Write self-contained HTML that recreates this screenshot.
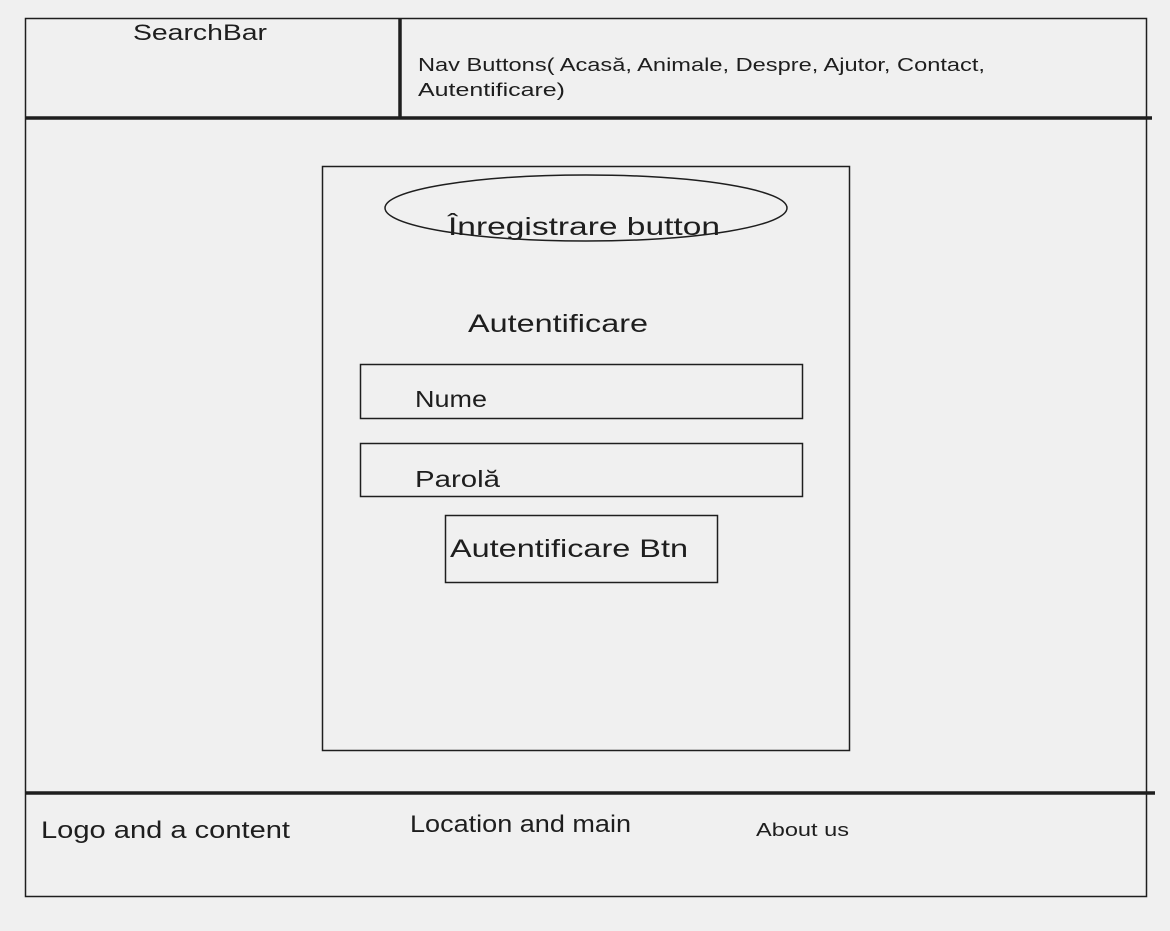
<!DOCTYPE html>
<html>
<head>
<meta charset="utf-8">
<style>
html,body{margin:0;padding:0;background:#f0f0f0;}
svg{display:block;}
text{font-family:"Liberation Sans","DejaVu Sans",sans-serif;fill:#1e1e1e;}
</style>
</head>
<body>
<svg width="1170" height="931" viewBox="0 0 1170 931" xmlns="http://www.w3.org/2000/svg">
<rect x="0" y="0" width="1170" height="931" fill="#f0f0f0"/>
<rect x="25.5" y="18.5" width="1121" height="878" fill="none" stroke="#1e1e1e" stroke-width="1.5"/>
<line x1="25" y1="118" x2="1152" y2="118" stroke="#1e1e1e" stroke-width="3.5"/>
<line x1="400" y1="18" x2="400" y2="118" stroke="#1e1e1e" stroke-width="3.5"/>
<line x1="25" y1="793" x2="1155" y2="793" stroke="#1e1e1e" stroke-width="3.5"/>

<text x="133" y="40" font-size="22" textLength="134" lengthAdjust="spacingAndGlyphs">SearchBar</text>
<text x="418" y="71" font-size="18" textLength="567" lengthAdjust="spacingAndGlyphs">Nav Buttons( Acasă, Animale, Despre, Ajutor, Contact,</text>
<text x="418" y="96" font-size="18" textLength="147" lengthAdjust="spacingAndGlyphs">Autentificare)</text>

<rect x="322.5" y="166.5" width="527" height="584" fill="none" stroke="#1e1e1e" stroke-width="1.5"/>
<ellipse cx="586" cy="208" rx="201" ry="33" fill="none" stroke="#1e1e1e" stroke-width="1.5"/>
<text x="448" y="235" font-size="25" textLength="272" lengthAdjust="spacingAndGlyphs">Înregistrare button</text>
<text x="468" y="332" font-size="25" textLength="180" lengthAdjust="spacingAndGlyphs">Autentificare</text>
<rect x="360.5" y="364.5" width="442" height="54" fill="none" stroke="#1e1e1e" stroke-width="1.5"/>
<text x="415" y="407" font-size="23" textLength="72" lengthAdjust="spacingAndGlyphs">Nume</text>
<rect x="360.5" y="443.5" width="442" height="53" fill="none" stroke="#1e1e1e" stroke-width="1.5"/>
<text x="415" y="487" font-size="23" textLength="85" lengthAdjust="spacingAndGlyphs">Parolă</text>
<rect x="445.5" y="515.5" width="272" height="67" fill="none" stroke="#1e1e1e" stroke-width="1.5"/>
<text x="450" y="557" font-size="25" textLength="238" lengthAdjust="spacingAndGlyphs">Autentificare Btn</text>

<text x="41" y="838" font-size="24" textLength="249" lengthAdjust="spacingAndGlyphs">Logo and a content</text>
<text x="410" y="832" font-size="24" textLength="221" lengthAdjust="spacingAndGlyphs">Location and main</text>
<text x="756" y="836" font-size="18" textLength="93" lengthAdjust="spacingAndGlyphs">About us</text>
</svg>
</body>
</html>
